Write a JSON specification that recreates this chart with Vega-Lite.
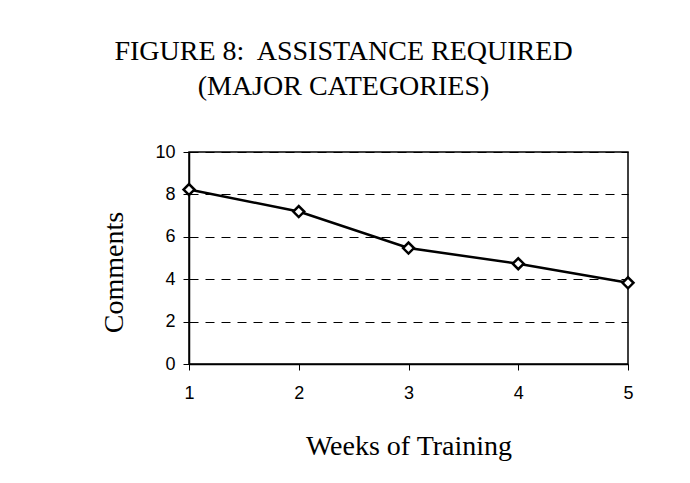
{
  "$schema": "https://vega.github.io/schema/vega-lite/v6.json",
  "width": 439,
  "height": 212,
  "autosize": {"type": "none"},
  "padding": {"left": 189, "top": 152, "right": 62, "bottom": 119},
  "background": "white",
  "title": {
    "text": ["FIGURE 8:\u00a0 ASSISTANCE REQUIRED", "(MAJOR CATEGORIES)"],
    "font": "Liberation Serif",
    "fontSize": 28,
    "fontWeight": "normal",
    "color": "black",
    "anchor": "middle",
    "dx": -65,
    "offset": 42,
    "lineHeight": 35
  },
  "data": {
    "values": [
      {"week": 1, "comments": 8.23},
      {"week": 2, "comments": 7.19},
      {"week": 3, "comments": 5.47},
      {"week": 4, "comments": 4.73},
      {"week": 5, "comments": 3.83}
    ]
  },
  "config": {
    "view": {"stroke": "black", "strokeWidth": 1.5},
    "axis": {
      "labelFont": "Liberation Sans",
      "labelFontSize": 18,
      "labelColor": "black",
      "titleFont": "Liberation Serif",
      "titleFontSize": 28,
      "titleFontWeight": "normal",
      "titleColor": "black",
      "domainColor": "black",
      "domainWidth": 1.5,
      "tickColor": "black",
      "tickSize": 6
    }
  },
  "layer": [
    {
      "mark": {"type": "line", "color": "black", "strokeWidth": 2.5},
      "encoding": {
        "x": {
          "field": "week", "type": "quantitative",
          "scale": {"domain": [1, 5], "nice": false},
          "axis": {"values": [1, 2, 3, 4, 5], "format": "d", "labelFlush": false, "grid": false, "title": "Weeks of Training", "labelPadding": 14, "titlePadding": 30}
        },
        "y": {
          "field": "comments", "type": "quantitative",
          "scale": {"domain": [0, 10], "nice": false},
          "axis": {"values": [0, 2, 4, 6, 8, 10], "labelFlush": false, "grid": true, "gridColor": "black", "gridDash": [9, 7], "gridWidth": 1, "title": "Comments", "labelPadding": 8, "titlePadding": 26, "titleY": 120}
        }
      }
    },
    {
      "mark": {"type": "point", "shape": "diamond", "filled": true, "fill": "white", "stroke": "black", "strokeWidth": 2.5, "size": 120, "opacity": 1},
      "encoding": {
        "x": {"field": "week", "type": "quantitative"},
        "y": {"field": "comments", "type": "quantitative"}
      }
    }
  ]
}
